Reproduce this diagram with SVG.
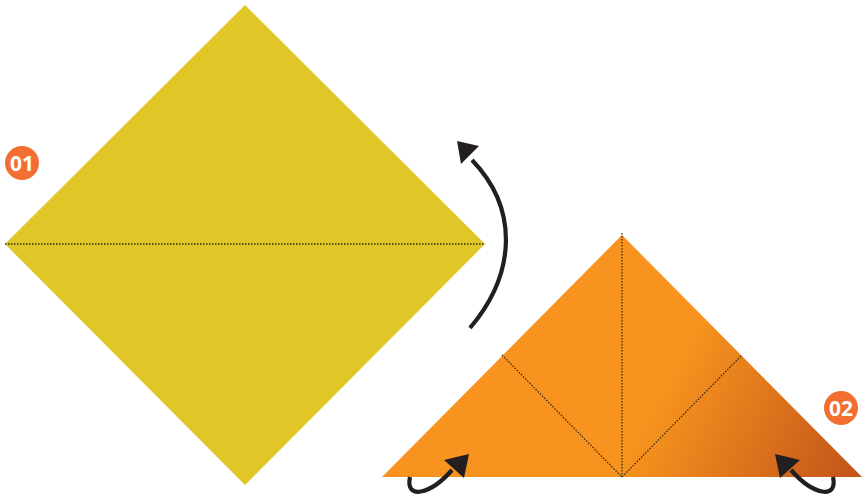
<svg xmlns="http://www.w3.org/2000/svg" width="866" height="502" viewBox="0 0 866 502">
<style>
.fold{stroke:#3a2a10;stroke-width:1.3;stroke-dasharray:1.5 1.5;fill:none}
.arr{stroke:#231f20;stroke-width:4.2;fill:none;stroke-linecap:butt}
.badge{fill:#f26e31}
.btxt{font-family:"Open Sans","Noto Sans",sans-serif;font-weight:bold;font-size:21px;fill:#fff;text-anchor:middle}
</style>
<defs>
<linearGradient id="og" x1="665" y1="385" x2="855" y2="482" gradientUnits="userSpaceOnUse">
<stop offset="0" stop-color="#f7931e"/>
<stop offset="1" stop-color="#c2541a"/>
</linearGradient>
</defs>
<g id="square">
<polygon points="245,5 485,244 245,485 5,244" fill="#e0c627"/>
<line class="fold" x1="5" y1="244" x2="485" y2="244"/>
</g>
<g id="triangle">
<polygon points="622,235 862,477 382,477" fill="url(#og)"/>
<line class="fold" x1="622" y1="233" x2="622" y2="477"/>
<line class="fold" x1="502" y1="355" x2="622" y2="477"/>
<line class="fold" x1="741" y1="356" x2="622" y2="477"/>
</g>
<g id="connectors">
<path class="arr" d="M470,328 C515,275 520,210 472,160"/>
<polygon points="457,141 479,146 461,164" fill="#231f20"/>
<path class="arr" d="M410,477 C405,500 430,495 452,470"/>
<polygon points="469,454 464,478 444,460" fill="#231f20"/>
<path class="arr" d="M833,477 C838,500 813,495 791,470"/>
<polygon points="775,454 780,478 800,460" fill="#231f20"/>
</g>
<g id="badge01">
<circle class="badge" cx="22" cy="163" r="17"/>
<text class="btxt" x="22" y="170.5">01</text>
</g>
<g id="badge02">
<circle class="badge" cx="841" cy="408" r="17"/>
<text class="btxt" x="841" y="415.5">02</text>
</g>
</svg>
